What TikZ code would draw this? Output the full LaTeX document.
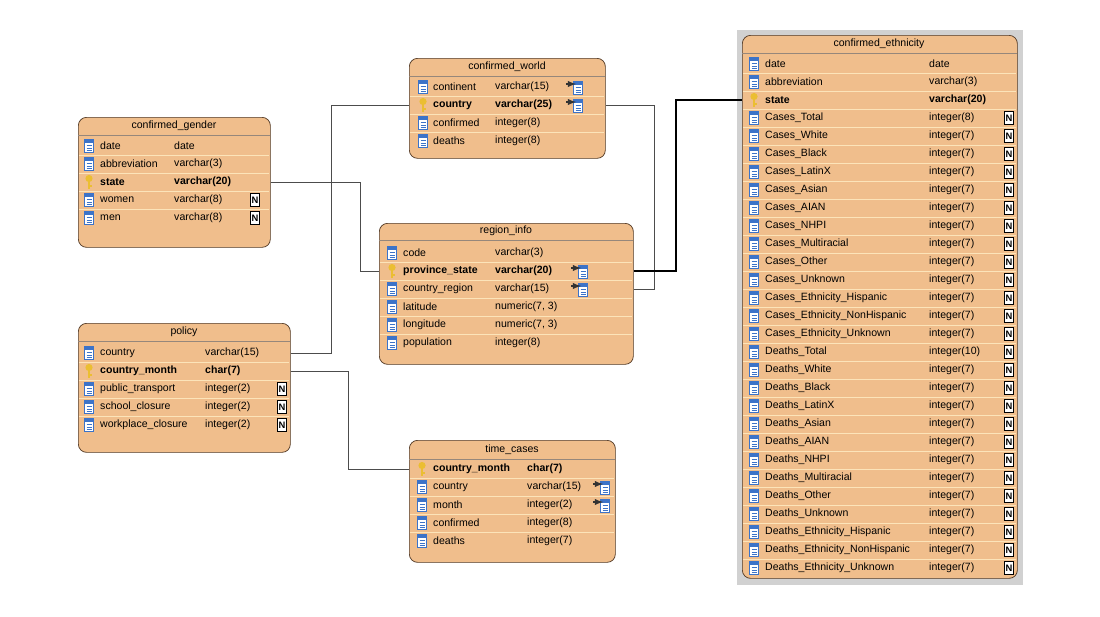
\documentclass[tikz,border=0pt]{standalone}
\usepackage{fontspec}
\setmainfont{Liberation Sans}
\usetikzlibrary{positioning}
\definecolor{tbl_fill}{RGB}{240,190,140}
\definecolor{tbl_edge}{RGB}{80,55,35}
\definecolor{row_line}{RGB}{252,228,185}
\definecolor{icon_blue}{RGB}{60,115,200}
\definecolor{key_yell}{RGB}{235,190,50}
\tikzset{
  tbl/.style 2 args={draw=tbl_edge, fill=tbl_fill, rounded corners=7pt, anchor=north west,
    minimum width=#1*0.03cm, minimum height=#2*0.03cm, inner sep=0pt, semithick},
  hdr/.style={font=\fontsize{9}{10}\selectfont, inner sep=0pt},
  cname/.style={anchor=west, inner sep=0pt, font=\fontsize{9}{10}\selectfont},
  ckey/.style={cname, font=\fontsize{9}{10}\selectfont\bfseries},
  sep/.style={row_line, line width=0.8pt},
  hsep/.style={tbl_edge!60, thin},
  link/.style={draw=black!70, thin},
  colicon/.pic={
    \draw[icon_blue, fill=white, line width=0.5pt] (-4.5,-6.5) rectangle (4.5,6.5);
    \fill[icon_blue] (-4.5,-6.5) rectangle (4.5,-3.5);
    \draw[icon_blue, line width=0.5pt] (-2.5,-1) -- (2.5,-1) (-2.5,1.8) -- (2.5,1.8) (-2.5,4.5) -- (2.5,4.5);
  },
  keyicon/.pic={
    \fill[key_yell] (-1.3,-2) rectangle (1.3,7);
    \fill[key_yell] (1.3,3) rectangle (3,4.5);
    \fill[key_yell] (0,-3.5) circle (3.6);
  },
  nicon/.pic={
    \draw[fill=white, line width=0.4pt] (-4.5,-6.5) rectangle (4.5,6.5);
    \node[inner sep=0pt, font=\fontsize{8}{8}\selectfont\bfseries] {N};
  },
  fkicon/.pic={
    \pic at (3,1) {colicon};
    \draw[-latex, line width=1.4pt, black!80] (-9,-3) -- (1,-3);
  },
}
\begin{document}
\begin{tikzpicture}[x=0.03cm, y=-0.03cm]
  \useasboundingbox (0,0) rectangle (1100,616);

  % confirmed_world
  \node[tbl={196}{100}] (world) at (409,58) {};
  \node[hdr] at (507,67) {confirmed\_world};
  \draw[hsep] (409,76) -- (605,76);
  \foreach \i in {1,2,3} \draw[sep] (410,{78+18*\i}) -- (604,{78+18*\i});
  \pic at (423,87) {colicon};
  \node[cname] at (433,87) {continent};
  \node[cname] at (495,87) {varchar(15)};
  \pic at (423,105) {keyicon};
  \node[ckey] (w-country) at (433,105) {country};
  \node[ckey] at (495,105) {varchar(25)};
  \foreach \i/\nm/\ty in {2/confirmed/integer(8), 3/deaths/integer(8)} {
    \pic at (423,{87+18*\i}) {colicon};
    \node[cname] at (433,{87+18*\i}) {\nm};
    \node[cname] at (495,{87+18*\i}) {\ty};
  }
  \pic at (575,87) {fkicon};
  \pic at (575,105) {fkicon};

  % confirmed_gender
  \node[tbl={192}{130}] (gender) at (78,117) {};
  \node[hdr] at (174,126) {confirmed\_gender};
  \draw[hsep] (78,135) -- (270,135);
  \foreach \i in {1,...,4} \draw[sep] (79,{137+18*\i}) -- (269,{137+18*\i});
  \foreach \i/\nm/\ty in {0/date/date, 1/abbreviation/varchar(3), 3/women/varchar(8), 4/men/varchar(8)} {
    \pic at (89,{146+18*\i}) {colicon};
    \node[cname] at (100,{146+18*\i}) {\nm};
    \node[cname] at (174,{146+18*\i}) {\ty};
  }
  \pic at (89,182) {keyicon};
  \node[ckey] (g-state) at (100,182) {state};
  \node[ckey] at (174,182) {varchar(20)};
  \pic at (255,200) {nicon};
  \pic at (255,218) {nicon};

  % region_info
  \node[tbl={254}{141}] (region) at (379,223) {};
  \node[hdr] at (506,231) {region\_info};
  \draw[hsep] (379,240) -- (633,240);
  \foreach \i in {1,...,5} \draw[sep] (380,{244+18*\i}) -- (632,{244+18*\i});
  \foreach \i/\nm/\ty in {0/code/varchar(3), 2/country\_region/varchar(15), 3/latitude/{numeric(7, 3)}, 4/longitude/{numeric(7, 3)}, 5/population/integer(8)} {
    \pic at (392,{253+18*\i}) {colicon};
    \node[cname] at (403,{253+18*\i}) {\nm};
    \node[cname] at (495,{253+18*\i}) {\ty};
  }
  \pic at (392,271) {keyicon};
  \node[ckey] (r-prov) at (403,271) {province\_state};
  \node[ckey] at (495,271) {varchar(20)};
  \coordinate (r-creg) at (403,289);
  \pic at (580,271) {fkicon};
  \pic at (580,289) {fkicon};

  % policy
  \node[tbl={212}{129}] (policy) at (78,323) {};
  \node[hdr] at (184,332) {policy};
  \draw[hsep] (78,341) -- (290,341);
  \foreach \i in {1,...,4} \draw[sep] (79,{344+18*\i}) -- (289,{344+18*\i});
  \foreach \i/\nm/\ty in {0/country/varchar(15), 2/public\_transport/integer(2), 3/school\_closure/integer(2), 4/workplace\_closure/integer(2)} {
    \pic at (89,{353+18*\i}) {colicon};
    \node[cname] at (100,{353+18*\i}) {\nm};
    \node[cname] at (205,{353+18*\i}) {\ty};
  }
  \coordinate (p-country) at (100,353);
  \pic at (89,371) {keyicon};
  \node[ckey] (p-month) at (100,371) {country\_month};
  \node[ckey] at (205,371) {char(7)};
  \foreach \i in {2,3,4} \pic at (282,{353+18*\i}) {nicon};

  % time_cases
  \node[tbl={206}{122}] (cases) at (409,440) {};
  \node[hdr] at (512,450) {time\_cases};
  \draw[hsep] (409,459) -- (615,459);
  \foreach \i in {1,...,4} \draw[sep] (410,{460+18*\i}) -- (614,{460+18*\i});
  \pic at (422,469) {keyicon};
  \node[ckey] (t-month) at (433,469) {country\_month};
  \node[ckey] at (527,469) {char(7)};
  \foreach \i/\nm/\ty in {1/country/varchar(15), 2/month/integer(2), 3/confirmed/integer(8), 4/deaths/integer(7)} {
    \pic at (422,{469+18*\i}) {colicon};
    \node[cname] at (433,{469+18*\i}) {\nm};
    \node[cname] at (527,{469+18*\i}) {\ty};
  }
  \pic at (602,487) {fkicon};
  \pic at (602,505) {fkicon};

  % confirmed_ethnicity
  \fill[black!18] (737,30) rectangle (1023,585);
  \node[tbl={275}{543}] (ethnic) at (742,35) {};
  \node[hdr] at (879,44) {confirmed\_ethnicity};
  \draw[hsep] (742,53) -- (1017,53);
  \foreach \i in {1,...,28} \draw[sep] (743,{55+18*\i}) -- (1016,{55+18*\i});
  \foreach \i/\nm/\ty in {0/date/date, 1/abbreviation/varchar(3)} {
    \pic at (754,{64+18*\i}) {colicon};
    \node[cname] at (765,{64+18*\i}) {\nm};
    \node[cname] at (929,{64+18*\i}) {\ty};
  }
  \pic at (754,100) {keyicon};
  \node[ckey] (e-state) at (765,100) {state};
  \node[ckey] at (929,100) {varchar(20)};
  \foreach \nm/\ty [count=\i from 3] in {Cases\_Total/integer(8), Cases\_White/integer(7),
      Cases\_Black/integer(7), Cases\_LatinX/integer(7), Cases\_Asian/integer(7),
      Cases\_AIAN/integer(7), Cases\_NHPI/integer(7), Cases\_Multiracial/integer(7),
      Cases\_Other/integer(7), Cases\_Unknown/integer(7), Cases\_Ethnicity\_Hispanic/integer(7),
      Cases\_Ethnicity\_NonHispanic/integer(7), Cases\_Ethnicity\_Unknown/integer(7),
      Deaths\_Total/integer(10), Deaths\_White/integer(7), Deaths\_Black/integer(7),
      Deaths\_LatinX/integer(7), Deaths\_Asian/integer(7), Deaths\_AIAN/integer(7),
      Deaths\_NHPI/integer(7), Deaths\_Multiracial/integer(7), Deaths\_Other/integer(7),
      Deaths\_Unknown/integer(7), Deaths\_Ethnicity\_Hispanic/integer(7),
      Deaths\_Ethnicity\_NonHispanic/integer(7), Deaths\_Ethnicity\_Unknown/integer(7)} {
    \pic at (754,{64+18*\i}) {colicon};
    \node[cname] at (765,{64+18*\i}) {\nm};
    \node[cname] at (929,{64+18*\i}) {\ty};
    \pic at (1009,{64+18*\i}) {nicon};
  }

  % links
  \draw[link] (gender.east |- g-state) -- ++(90,0) |- (region.west |- r-prov);
  \draw[link] (policy.east |- p-country) -- ++(41,0) |- (world.west |- w-country);
  \draw[link] (policy.east |- p-month) -- ++(58,0) |- (cases.west |- t-month);
  \draw[link] (region.east |- r-creg) -- ++(21,0) |- (world.east |- w-country);
  \draw[line width=1.8pt] (region.east |- r-prov) -- ++(42,0) |- (ethnic.west |- e-state);
\end{tikzpicture}
\end{document}
